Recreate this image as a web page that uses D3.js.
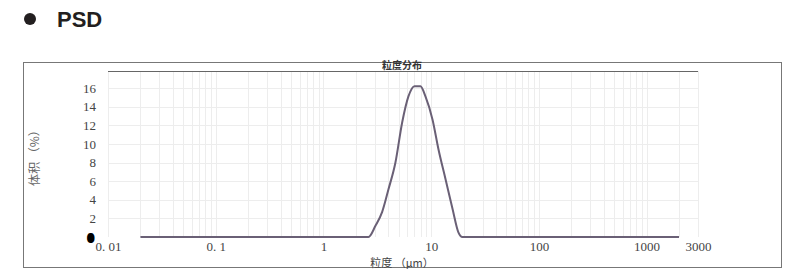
<!DOCTYPE html>
<html>
<head>
<meta charset="utf-8">
<script src="https://cdn.jsdelivr.net/npm/d3@7"></script>
<style>
  body { margin: 0; background: #fff; }
  svg { display: block; }
</style>
</head>
<body>
<script>
// 粒度データ (µm) と 体积 (%)
var sizes  = [0.02, 2.62, 3.04, 3.51, 4.01, 4.66, 5.38, 6.15, 7.0, 7.96, 8.85, 10.3, 11.7, 13.6, 15.8, 17.9, 19.5, 2000];
var volume = [0,    0,    1.2,  2.7,  5.1,  8.0,  12.3, 15.1, 16.2, 16.2, 15.1, 12.6, 9.4,  6.2,  3.0,  0.5,  0,    0];

var xTicks = [0.01, 0.1, 1, 10, 100, 1000, 3000];
var xTickLabels = ["0. 01", "0. 1", "1", "10", "100", "1000", "3000"];
var yTicks = [0, 2, 4, 6, 8, 10, 12, 14, 16];

var W = 800, H = 269;
var plot = {left: 108, right: 698, top: 71, bottom: 237};

var svg = d3.select("body").append("svg")
    .attr("width", W)
    .attr("height", H);

// 見出し
svg.append("circle").attr("cx", 30).attr("cy", 19).attr("r", 6).attr("fill", "#231f20");
svg.append("text")
    .attr("x", 57).attr("y", 27)
    .attr("font-family", "Liberation Sans, Arial, sans-serif")
    .attr("font-weight", "bold")
    .attr("font-size", 22)
    .attr("fill", "#231f20")
    .text("PSD");

// 外枠
svg.append("rect")
    .attr("x", 23.5).attr("y", 62.5)
    .attr("width", 758).attr("height", 205)
    .attr("fill", "none")
    .attr("stroke", "#777")
    .attr("stroke-width", 1);

var xScale = d3.scaleLog().domain([0.01, 3000]).range([plot.left, plot.right]);
var yScale = d3.scaleLinear().domain([0, 16]).range([plot.bottom, 88]);

// グリッド（縦）
var minor = [];
for (var e = -2; e <= 3; e++) {
  for (var m = 1; m <= 9; m++) {
    var v = m * Math.pow(10, e);
    if (v <= 3000) minor.push(v);
  }
}
svg.append("g").selectAll("line")
  .data(minor)
  .enter().append("line")
    .attr("x1", function(d) { return Math.round(xScale(d)) + 0.5; })
    .attr("x2", function(d) { return Math.round(xScale(d)) + 0.5; })
    .attr("y1", plot.top)
    .attr("y2", plot.bottom)
    .attr("stroke", "#ededed")
    .attr("stroke-width", 1);

// グリッド（横）
svg.append("g").selectAll("line")
  .data(yTicks.slice(1))
  .enter().append("line")
    .attr("x1", plot.left)
    .attr("x2", plot.right)
    .attr("y1", function(d) { return Math.round(yScale(d)) + 0.5; })
    .attr("y2", function(d) { return Math.round(yScale(d)) + 0.5; })
    .attr("stroke", "#ededed")
    .attr("stroke-width", 1);

// 上の線
svg.append("line")
    .attr("x1", plot.left).attr("x2", plot.right)
    .attr("y1", plot.top + 0.5).attr("y2", plot.top + 0.5)
    .attr("stroke", "#666")
    .attr("stroke-width", 1.2);

// タイトル
svg.append("text")
    .attr("x", 402).attr("y", 69)
    .attr("text-anchor", "middle")
    .attr("font-family", "Noto Sans CJK SC, sans-serif")
    .attr("font-weight", "bold")
    .attr("font-size", 10)
    .attr("fill", "#333")
    .text("粒度分布");

// X軸
var xAxis = d3.axisBottom(xScale)
    .tickValues(xTicks)
    .tickSize(0)
    .tickPadding(5)
    .tickFormat(function(d, i) { return xTickLabels[i]; });
var gx = svg.append("g")
    .attr("transform", "translate(0," + plot.bottom + ")")
    .call(xAxis);
gx.attr("font-family", "Liberation Serif, DejaVu Serif, serif");
gx.select(".domain").remove();
gx.selectAll("text")
    .attr("font-size", 13)
    .attr("fill", "#444");

// Y軸
var yAxis = d3.axisLeft(yScale)
    .tickValues(yTicks)
    .tickSize(0)
    .tickPadding(12);
var gy = svg.append("g")
    .attr("transform", "translate(" + plot.left + ",0)")
    .call(yAxis);
gy.attr("font-family", "Liberation Serif, DejaVu Serif, serif");
gy.select(".domain").remove();
gy.selectAll("text")
    .attr("font-size", 13)
    .attr("fill", "#444");
gy.selectAll(".tick")
  .filter(function(d) { return d === 0; })
  .select("text")
    .attr("x", -14)
    .attr("font-weight", "bold")
    .attr("stroke", "#000")
    .attr("stroke-width", 2)
    .attr("fill", "#000");

// 軸ラベル
svg.append("text")
    .attr("transform", "translate(39,155) rotate(-90)")
    .attr("text-anchor", "middle")
    .attr("font-family", "Noto Sans CJK SC, sans-serif")
    .attr("font-size", 12)
    .attr("fill", "#666")
    .text("体积 （%）");
svg.append("text")
    .attr("x", 402).attr("y", 267)
    .attr("text-anchor", "middle")
    .attr("font-family", "Noto Sans CJK SC, serif")
    .attr("font-size", 11)
    .attr("fill", "#444")
    .text("粒度 （μm）");

// 分布曲線
var line = d3.line()
    .x(function(d, i) { return xScale(sizes[i]); })
    .y(function(d) { return yScale(d); })
    .curve(d3.curveMonotoneX);
svg.append("path")
    .attr("d", line(volume))
    .attr("fill", "none")
    .attr("stroke", "#6a6076")
    .attr("stroke-width", 2);
</script>
</body>
</html>
